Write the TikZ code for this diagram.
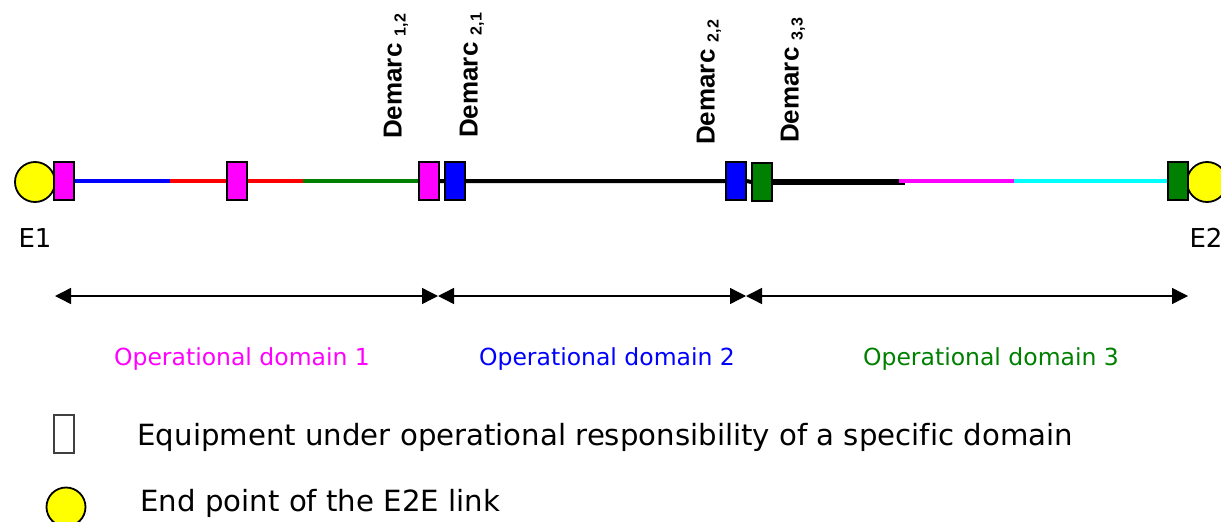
\documentclass[tikz,border=0pt]{standalone}
\usepackage{fontspec}
\setmainfont[Ligatures=NoCommon]{DejaVu Sans}
\newfontfamily\demarcfont{Liberation Sans}
\usetikzlibrary{arrows.meta}
\definecolor{dgreen}{RGB}{0,128,0}
\definecolor{dmagenta}{RGB}{255,0,255}
\definecolor{dcyan}{RGB}{0,255,255}
\definecolor{dyellow}{RGB}{255,255,0}
\tikzset{
  equip/.style={draw, line width=1.8pt, minimum width=20pt, minimum height=38pt, inner sep=0pt},
  endpt/.style={circle, draw, line width=1.8pt, fill=dyellow, minimum size=40pt, inner sep=0pt},
  demarc/.style={rotate=90, anchor=west, inner sep=0pt, font=\demarcfont\bfseries\fontsize{26}{26}\selectfont},
  span/.style={line width=1.4pt, {Triangle[length=16pt,width=16pt]}-{Triangle[length=16pt,width=16pt]}},
  legend/.style={anchor=west, font=\fontsize{29.2}{32}\selectfont},
}
\newcommand{\dsub}[1]{\raisebox{-4pt}{\fontsize{16}{16}\selectfont #1}}
\begin{document}
\begin{tikzpicture}[x=1pt,y=-1pt,font=\fontsize{23.5}{26}\selectfont]
\useasboundingbox (0,0) rectangle (1221,522);
% end points and equipment
\node[endpt] (e1) at (35,182) {};
\node[endpt] (e2) at (1207,182) {};
\node[equip, fill=dmagenta] (m1) at (64,181) {};
\node[equip, fill=dmagenta] (m2) at (237,181) {};
\node[equip, fill=dmagenta] (m3) at (429,181) {};
\node[equip, fill=blue]     (b1) at (455,181) {};
\node[equip, fill=blue]     (b2) at (736,181) {};
\node[equip, fill=dgreen]   (g1) at (762,182) {};
\node[equip, fill=dgreen]   (g2) at (1178,181) {};
\node[anchor=west, font=\fontsize{26}{28}\selectfont] (t1) at (15,238) {E1};
\node[anchor=west, font=\fontsize{26}{28}\selectfont] (t2) at (1186,238) {E2};
% the link
\coordinate (c1) at (170,181);
\coordinate (c2) at (303,181);
\coordinate (c3) at (905,182);
\coordinate (c4) at (1014,181);
\draw[blue, line width=4pt] (m1.east) -- (c1);
\draw[red, line width=4pt] (c1) -- (m2.west) (m2.east) -- (c2);
\draw[dgreen, line width=3.5pt] (c2) -- (m3.west);
\draw[line width=4pt] (m3.east) -- (b1.west) (b1.east) -- (b2.west) (b2.east) -- (g1.west);
\draw[line width=6pt] (g1.east) -- (c3);
\draw[dmagenta, line width=4pt] (c3) ++(-6,-1) -- (c4);
\draw[dcyan, line width=4pt] (c4) -- (g2.west);
% demarcation points
\node[demarc] (d12) at (396,139) {Demarc \dsub{1,2}};
\node[demarc] (d21) at (472,138) {Demarc \dsub{2,1}};
\node[demarc] (d22) at (709,145) {Demarc \dsub{2,2}};
\node[demarc] (d33) at (793,143) {Demarc \dsub{3,3}};
% domains
\coordinate (a0) at (55,296);
\coordinate (a1) at (438,296);
\coordinate (a2) at (746,296);
\coordinate (a3) at (1188,296);
\draw[span] (a0) -- (a1);
\draw[span] (a1) -- (a2);
\draw[span] (a2) -- (a3);
\node[dmagenta] (o1) at (242,359) {Operational domain 1};
\node[blue]     (o2) at (607,359) {Operational domain 2};
\node[dgreen]   (o3) at (991,359) {Operational domain 3};
% legend
\node[draw=black!75, line width=1.2pt, minimum width=20pt, minimum height=38pt, inner sep=0pt] (l1) at (64,434) {};
\node[endpt, minimum size=39pt] (l2) at (66,507) {};
\node[legend] (lt1) at (134,437) {Equipment under operational responsibility of a specific domain};
\node[legend] (lt2) at (137,503) {End point of the E2E link};
\end{tikzpicture}
\end{document}
